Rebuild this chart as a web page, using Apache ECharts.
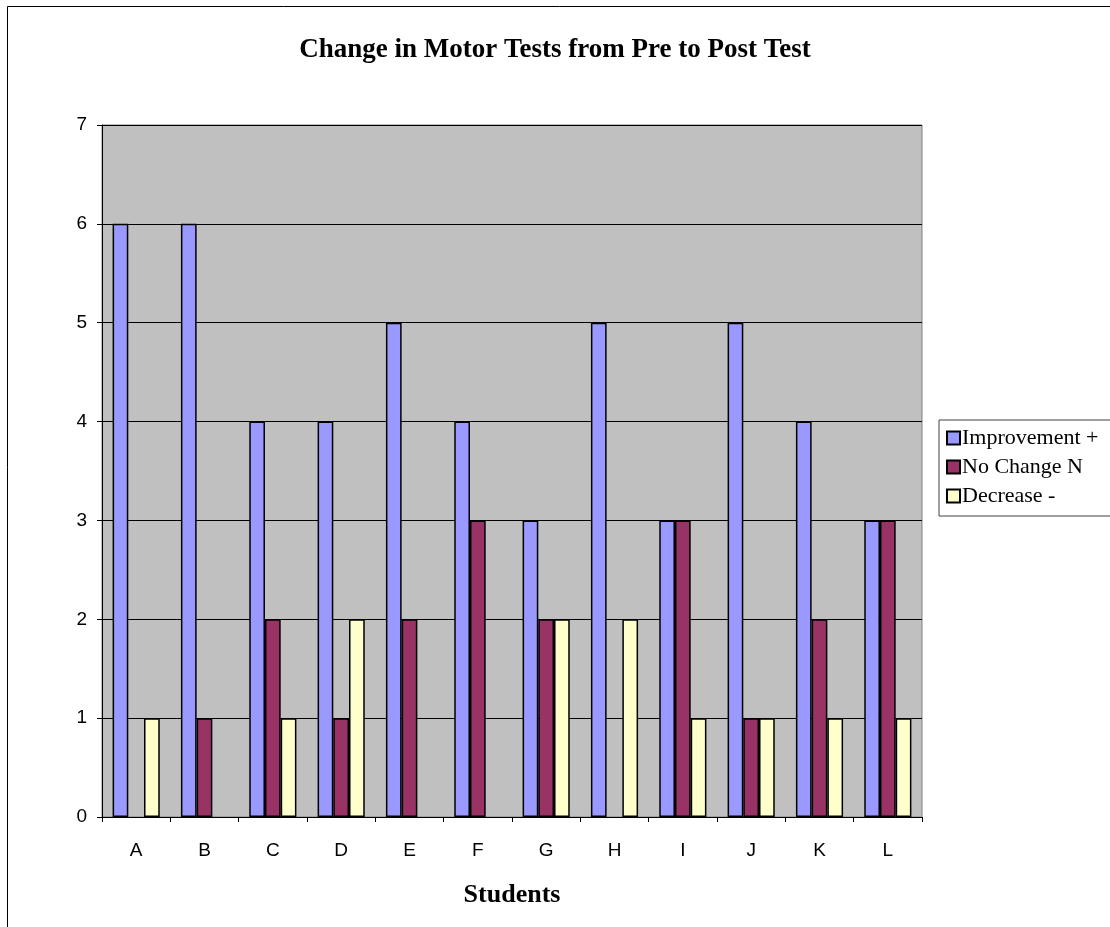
<!DOCTYPE html>
<html>
<head>
<meta charset="utf-8">
<script src="https://cdn.jsdelivr.net/npm/echarts@6/dist/echarts.min.js"></script>
<style>
  html, body { margin: 0; padding: 0; background: #fff; }
  #chart { width: 1110px; height: 927px; }
</style>
</head>
<body>
<div id="chart"></div>
<script>
// data
const students = ['A', 'B', 'C', 'D', 'E', 'F', 'G', 'H', 'I', 'J', 'K', 'L'];
const improvement = [6, 6, 4, 4, 5, 4, 3, 5, 3, 5, 4, 3];
const noChange = [0, 1, 2, 1, 2, 3, 2, 0, 3, 1, 2, 3];
const decrease = [1, 0, 1, 2, 0, 0, 2, 2, 1, 1, 1, 1];

const chart = echarts.init(document.getElementById('chart'));

const serif = '"Liberation Serif", "Times New Roman", serif';
const sans = '"Liberation Sans", Arial, sans-serif';

function bar (name, data, color) {
  return {
    name: name,
    type: 'bar',
    // zero counts draw no bar at all
    data: data.map(v => (v === 0 ? '-' : v)),
    barGap: 0,
    barCategoryGap: '31%',
    itemStyle: { color: color, borderColor: '#000', borderWidth: 1.5 }
  };
}

const option = {
  animation: false,
  backgroundColor: '#fff',
  title: {
    text: 'Change in Motor Tests from Pre to Post Test',
    left: 'center',
    top: 32,
    textStyle: { fontFamily: serif, fontWeight: 'bold', fontSize: 27, color: '#000' }
  },
  // outer chart border (right/bottom run off the page)
  graphic: [{
    type: 'rect',
    shape: { x: 7.5, y: 6.5, width: 1200, height: 1000 },
    style: { fill: 'none', stroke: '#000', lineWidth: 1 },
    silent: true
  }],
  grid: {
    left: 102, right: 188, top: 125, bottom: 110,
    show: true,
    backgroundColor: '#C0C0C0',
    borderColor: '#808080',
    borderWidth: 1
  },
  legend: {
    orient: 'vertical',
    left: 939,
    top: 420,
    itemWidth: 13,
    itemHeight: 13,
    itemGap: 7,
    icon: 'rect',
    padding: [7, 30, 9, 7],
    borderColor: '#404040',
    borderWidth: 1,
    textStyle: { fontFamily: serif, fontSize: 22, color: '#000', padding: [0, 0, 0, -3] },
    data: ['Improvement +', 'No Change N', 'Decrease -']
  },
  xAxis: {
    type: 'category',
    data: students,
    name: 'Students',
    nameLocation: 'middle',
    nameGap: 65,
    nameMoveOverlap: false,
    nameTextStyle: { fontFamily: serif, fontWeight: 'bold', fontSize: 26, color: '#000' },
    axisLine: { lineStyle: { color: '#000', width: 1 } },
    axisTick: { show: true, length: 5, lineStyle: { color: '#000' } },
    axisLabel: { fontFamily: sans, fontSize: 19, color: '#000', margin: 24 }
  },
  yAxis: {
    type: 'value',
    min: 0,
    max: 7,
    interval: 1,
    axisLine: { show: true, lineStyle: { color: '#000', width: 1 } },
    axisTick: { show: true, length: 5, lineStyle: { color: '#000' } },
    axisLabel: { fontFamily: sans, fontSize: 19, color: '#000', margin: 15 },
    splitLine: { lineStyle: { color: '#000', width: 1 } }
  },
  series: [
    bar('Improvement +', improvement, '#9999FF'),
    bar('No Change N', noChange, '#993366'),
    bar('Decrease -', decrease, '#FFFFCC')
  ]
};

chart.setOption(option);
</script>
</body>
</html>
